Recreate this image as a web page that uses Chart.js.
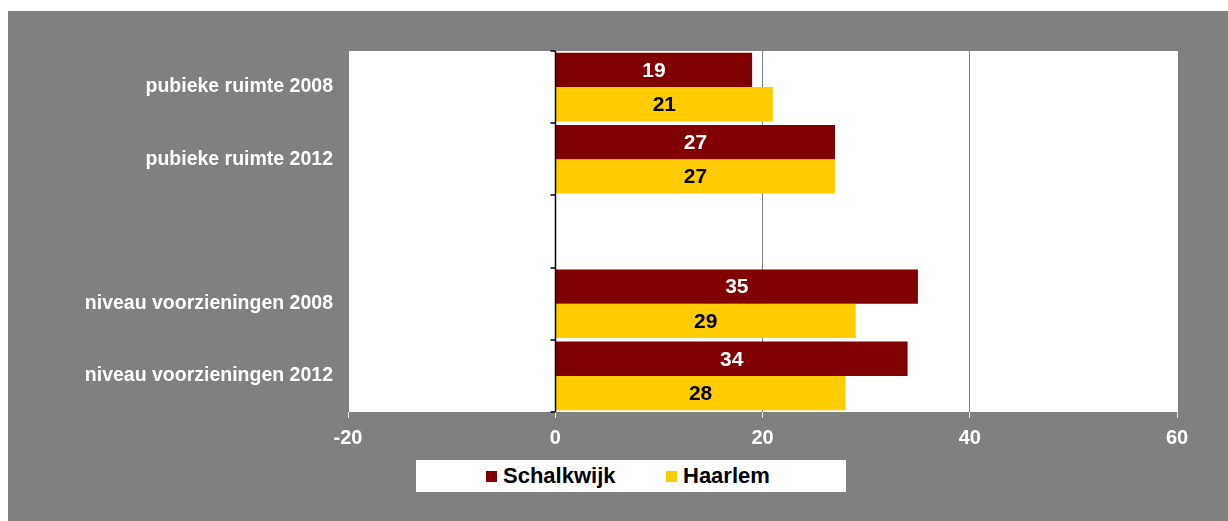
<!DOCTYPE html>
<html>
<head>
<meta charset="utf-8">
<script src="https://cdn.jsdelivr.net/npm/chart.js@4.4.1/dist/chart.umd.min.js"></script>
<style>
  body { margin: 0; background: #fff; }
  #wrap { position: relative; width: 1228px; height: 521px; }
  #legend {
    position: absolute; left: 416px; top: 460px; width: 430px; height: 32px;
    background: #fff; box-sizing: border-box; padding-left: 70px;
    display: flex; align-items: center;
    font: bold 22px "Liberation Sans", Arial, sans-serif; color: #000;
  }
  #legend .item { width: 197px; display: flex; align-items: center; }
  #legend .box { width: 11px; height: 11px; margin-right: 6px; }
</style>
</head>
<body>
<div id="wrap">
  <canvas id="grafiek" width="1228" height="521"></canvas>
  <div id="legend"></div>
</div>
<script>
var categories = ["pubieke ruimte 2008", "pubieke ruimte 2012", "", "niveau voorzieningen 2008", "niveau voorzieningen 2012"];
var schalkwijk = [19, 27, null, 35, 34];
var haarlem = [21, 27, null, 29, 28];
var seriesNames = ["Schalkwijk", "Haarlem"];
var seriesColors = ["#800000", "#FFCC00"];
var labelColors = ["#ffffff", "#000000"];
var xTicks = [-20, 0, 20, 40, 60];

var FONT = '"Liberation Sans", Arial, sans-serif';

// grey frame + white plot area
var background = {
    id: 'background',
    beforeDraw: function (chart) {
        var c = chart.ctx, a = chart.chartArea;
        c.save();
        c.fillStyle = '#ffffff';
        c.fillRect(0, 0, chart.width, chart.height);
        c.fillStyle = '#808080';
        c.fillRect(8, 11, chart.width - 8, chart.height - 11);
        c.fillStyle = '#ffffff';
        c.fillRect(a.left, a.top, a.right - a.left, a.bottom - a.top);
        c.restore();
    }
};

// vertical axis line at x = 0 with tick marks between categories
var zeroAxis = {
    id: 'zeroAxis',
    afterDatasetsDraw: function (chart) {
        var c = chart.ctx, a = chart.chartArea;
        var x0 = Math.round(chart.scales.x.getPixelForValue(0)) + 0.5;
        var n = categories.length;
        var step = (a.bottom - a.top) / n;
        c.save();
        c.strokeStyle = '#000000';
        c.lineWidth = 1.5;
        c.beginPath();
        c.moveTo(x0, a.top);
        c.lineTo(x0, a.bottom);
        for (var i = 0; i <= n; i++) {
            var y = Math.round(a.top + i * step);
            c.moveTo(x0 - 5, y);
            c.lineTo(x0, y);
        }
        c.stroke();
        c.restore();
    }
};

// value labels in the middle of each bar
var valueLabels = {
    id: 'valueLabels',
    afterDatasetsDraw: function (chart) {
        var c = chart.ctx;
        c.save();
        c.font = 'bold 21px ' + FONT;
        c.textAlign = 'center';
        c.textBaseline = 'middle';
        chart.data.datasets.forEach(function (ds, di) {
            chart.getDatasetMeta(di).data.forEach(function (bar, i) {
                if (ds.data[i] == null) return;
                c.fillStyle = labelColors[di];
                c.fillText(String(ds.data[i]), (bar.x + bar.base) / 2, bar.y + 1);
            });
        });
        c.restore();
    }
};

var ctx = document.getElementById("grafiek").getContext('2d');

var myChart = new Chart(ctx, {
    type: 'bar',
    data: {
        labels: categories,
        datasets: [
            {
                label: seriesNames[0],
                data: schalkwijk,
                backgroundColor: seriesColors[0],
                borderWidth: 0
            },
            {
                label: seriesNames[1],
                data: haarlem,
                backgroundColor: seriesColors[1],
                borderWidth: 0
            }
        ]
    },
    options: {
        indexAxis: 'y',
        responsive: false,
        animation: false,
        layout: { padding: { left: 10, right: 51, top: 51, bottom: 59 } },
        datasets: { bar: { categoryPercentage: 0.95, barPercentage: 1 } },
        plugins: {
            legend: { display: false },
            tooltip: { enabled: false }
        },
        scales: {
            x: {
                min: -20,
                max: 60,
                afterBuildTicks: function (scale) {
                    scale.ticks = xTicks.map(function (v) { return { value: v }; });
                },
                afterFit: function (scale) { scale.height = 50; },
                border: { display: false },
                grid: {
                    color: function (c) {
                        if (c.tick && c.tick.value === 0) return 'rgba(0,0,0,0)';
                        if (c.tick && c.tick.value === 60) return '#ffffff';
                        return '#808080';
                    },
                    tickColor: '#e6e6e6',
                    tickLength: 6
                },
                ticks: {
                    color: '#ffffff',
                    padding: 8,
                    font: { family: FONT, size: 20, weight: 'bold' }
                }
            },
            y: {
                afterFit: function (scale) { scale.width = 338; },
                border: { display: false },
                grid: { display: false },
                ticks: {
                    color: '#ffffff',
                    padding: 7,
                    font: { family: FONT, size: 19.5, weight: 'bold' }
                }
            }
        }
    },
    plugins: [background, zeroAxis, valueLabels]
});

// legend built from the datasets
var legend = document.getElementById('legend');
myChart.data.datasets.forEach(function (ds) {
    var item = document.createElement('div');
    item.className = 'item';
    var box = document.createElement('span');
    box.className = 'box';
    box.style.background = ds.backgroundColor;
    var txt = document.createElement('span');
    txt.textContent = ds.label;
    item.appendChild(box);
    item.appendChild(txt);
    legend.appendChild(item);
});
</script>
</body>
</html>
